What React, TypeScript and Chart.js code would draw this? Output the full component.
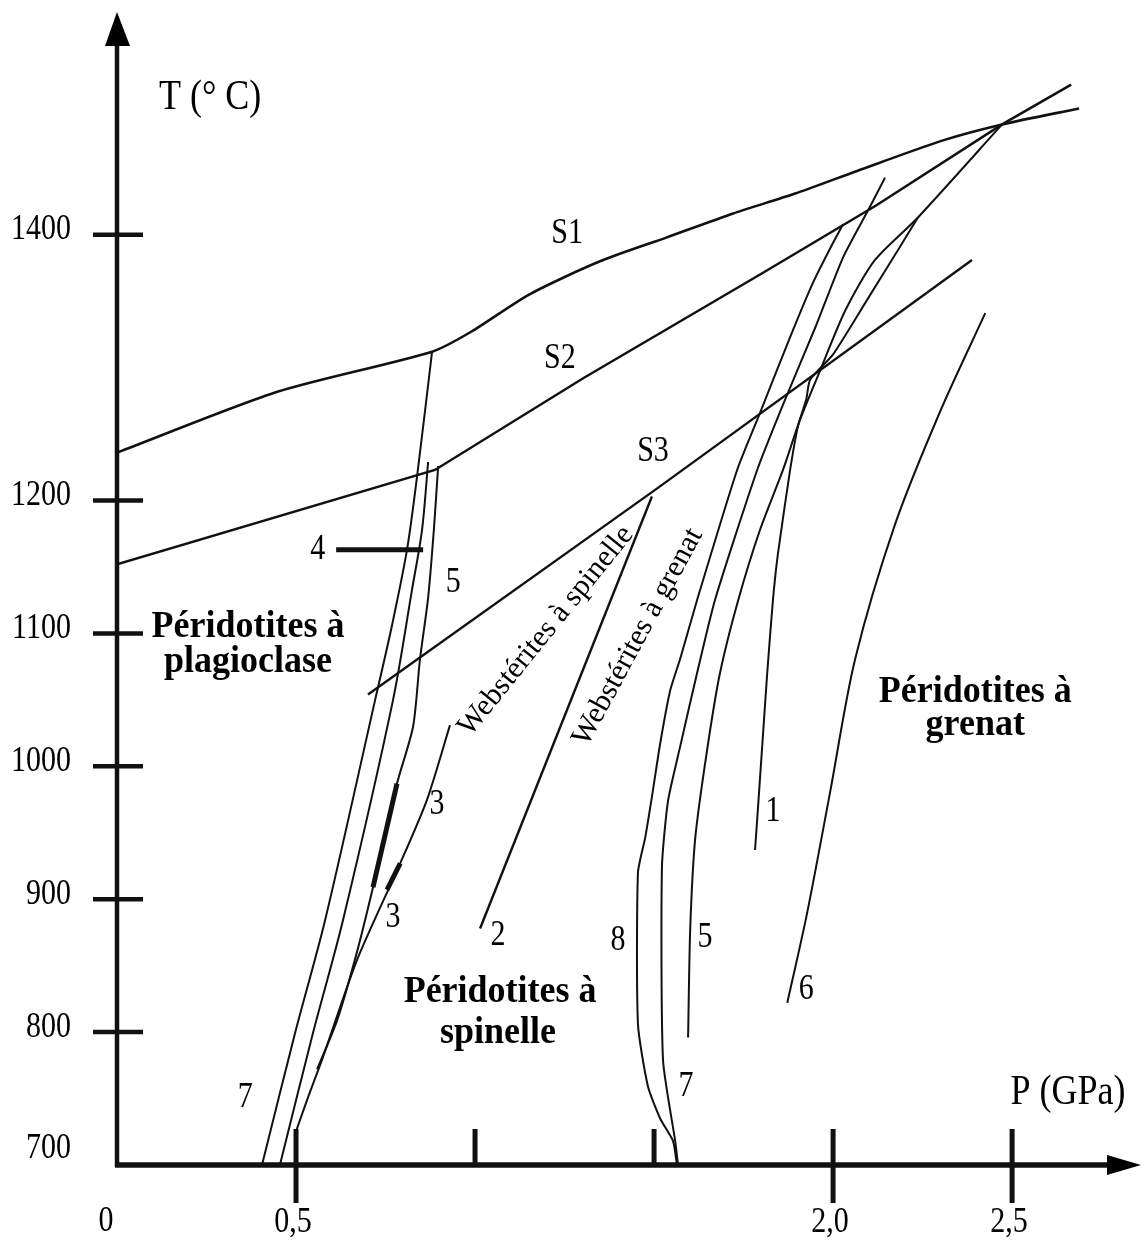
import React, { useEffect, useRef } from 'react';
import { Chart, registerables } from 'chart.js';

Chart.register(...registerables);

type Pt = [number, number];

// Solidus curves (P in GPa, T in °C)
const S1: Pt[] = [[0, 1236], [0.45, 1282], [0.88, 1312], [0.989, 1327], [1.151, 1355], [1.349, 1380], [1.536, 1398], [1.721, 1416], [1.894, 1431], [2.067, 1448], [2.307, 1471], [2.472, 1483], [2.687, 1495]];
const S2: Pt[] = [[0, 1152], [0.888, 1223], [1.302, 1292], [1.802, 1371], [2.12, 1422], [2.472, 1483], [2.665, 1513]];
const S3: Pt[] = [[0.701, 1054], [1.503, 1208], [2.388, 1381]];

// Plagioclase / spinel transition curves
const line7a: Pt[] = [[0.88, 1312], [0.838, 1218], [0.81, 1163], [0.768, 1106], [0.721, 1050], [0.581, 884], [0.497, 799], [0.405, 700]];
const line7b: Pt[] = [[0.869, 1229], [0.852, 1178], [0.824, 1133], [0.771, 1050], [0.631, 884], [0.547, 799], [0.455, 700]];
const line5a: Pt[] = [[0.897, 1226], [0.885, 1178], [0.869, 1127], [0.846, 1080], [0.827, 1030], [0.782, 987], [0.715, 909], [0.67, 860], [0.615, 809], [0.559, 772]];
const line3: Pt[] = [[0.93, 1031], [0.866, 975], [0.791, 927], [0.67, 854], [0.575, 781], [0.531, 749], [0.497, 723]];
const line3ThickA: Pt[] = [[0.782, 987], [0.715, 909]];
const line3ThickB: Pt[] = [[0.791, 927], [0.754, 907]];
const line4: Pt[] = [[0.612, 1163], [0.855, 1163]];

// Websterite boundary
const line2: Pt[] = [[1.014, 878], [1.494, 1203]];

// Spinel / garnet transition curves
const line8: Pt[] = [[1.564, 700], [1.553, 718], [1.517, 735], [1.483, 759], [1.455, 806], [1.455, 920], [1.475, 946], [1.494, 977], [1.517, 1017], [1.545, 1057], [1.573, 1081], [1.62, 1125], [1.732, 1223], [1.796, 1266], [1.88, 1323], [1.944, 1364], [2.0, 1394], [2.028, 1408]];
const line7c: Pt[] = [[1.567, 700], [1.559, 718], [1.525, 779], [1.522, 924], [1.539, 974], [1.573, 1015], [1.62, 1070], [1.67, 1125], [1.788, 1223], [1.866, 1276], [1.95, 1330], [2.028, 1383], [2.103, 1421], [2.145, 1443]];
const line5b: Pt[] = [[1.595, 796], [1.601, 878], [1.615, 946], [1.648, 1012], [1.684, 1070], [1.735, 1125], [1.796, 1178], [1.86, 1223], [1.908, 1261], [1.964, 1298], [2.034, 1343], [2.117, 1381], [2.237, 1413], [2.472, 1483]];
const line1: Pt[] = [[1.782, 937], [1.788, 960], [1.802, 1015], [1.816, 1070], [1.832, 1125], [1.846, 1160], [1.88, 1223], [1.902, 1256], [1.925, 1276], [1.936, 1291], [2.0, 1310], [2.095, 1351], [2.187, 1391], [2.237, 1413]];
const line6: Pt[] = [[1.872, 822], [1.927, 889], [1.992, 981], [2.061, 1080], [2.173, 1182], [2.299, 1267], [2.425, 1341]];

// Axes
const yTickValues = [700, 800, 900, 1000, 1100, 1200, 1400];
const yTickLabels = ['700', '800', '900', '1000', '1100', '1200', '1400'];
const xTickValues = [0.5, 1.0, 1.5, 2.0, 2.5];
const xTickLabels = ['0,5', '', '', '2,0', '2,5'];

// Text labels (positions in data units)
const curveLabels = [
  { t: 'S1', p: 1.257, v: 1401 },
  { t: 'S2', p: 1.237, v: 1307 },
  { t: 'S3', p: 1.497, v: 1236.5 },
  { t: '4', p: 0.561, v: 1163 },
  { t: '5', p: 0.939, v: 1138 },
  { t: '3', p: 0.894, v: 971 },
  { t: '3', p: 0.771, v: 886 },
  { t: '7', p: 0.358, v: 751 },
  { t: '2', p: 1.064, v: 873 },
  { t: '8', p: 1.399, v: 869 },
  { t: '5', p: 1.642, v: 871 },
  { t: '7', p: 1.589, v: 759 },
  { t: '1', p: 1.832, v: 966 },
  { t: '6', p: 1.925, v: 832 },
];
const regionLabels = [
  { t: 'Péridotites à', p: 0.366, v: 1097.3 },
  { t: 'plagioclase', p: 0.366, v: 1071 },
  { t: 'Péridotites à', p: 1.07, v: 822.7 },
  { t: 'spinelle', p: 1.064, v: 791.8 },
  { t: 'Péridotites à', p: 2.397, v: 1048.4 },
  { t: 'grenat', p: 2.397, v: 1023.6 },
];
const rotatedLabels = [
  { t: 'Webstérites à spinelle', p: 1.198, v: 1101.8, angle: -51 },
  { t: 'Webstérites à grenat', p: 1.455, v: 1097.3, angle: -61.5 },
];
const axisTitles = [
  { t: 'T (° C)', p: 0.26, v: 1503 },
  { t: 'P (GPa)', p: 2.656, v: 754 },
];

const SERIF = '"Liberation Serif", "Times New Roman", serif';

function drawText(ctx: CanvasRenderingContext2D, text: string, x: number, y: number, font: string, align: CanvasTextAlign, baseline: CanvasTextBaseline, sy = 1.15) {
  ctx.save();
  ctx.translate(x, y);
  ctx.scale(1, sy);
  ctx.font = font;
  ctx.textAlign = align;
  ctx.textBaseline = baseline;
  ctx.fillText(text, 0, 0);
  ctx.restore();
}

const annotPlugin = {
  id: 'phaseAnnot',
  afterDatasetsDraw(chart: any) {
    const { ctx, chartArea } = chart;
    const xs = chart.scales.x;
    const ys = chart.scales.y;
    const X = (v: number) => xs.getPixelForValue(v);
    const Y = (v: number) => ys.getPixelForValue(v);
    const x0 = X(0);
    const y0 = Y(700);
    ctx.save();
    ctx.fillStyle = '#000';
    ctx.strokeStyle = '#111';
    ctx.lineCap = 'butt';

    // Y axis with arrow
    ctx.lineWidth = 4.5;
    ctx.beginPath();
    ctx.moveTo(x0, y0 + 2);
    ctx.lineTo(x0, chartArea.top + 30);
    ctx.stroke();
    ctx.beginPath();
    ctx.moveTo(x0, chartArea.top);
    ctx.lineTo(x0 - 12, chartArea.top + 34);
    ctx.lineTo(x0 + 13, chartArea.top + 34);
    ctx.closePath();
    ctx.fill();

    // X axis with arrow
    ctx.lineWidth = 5.5;
    ctx.beginPath();
    ctx.moveTo(x0 - 2, y0);
    ctx.lineTo(chartArea.right - 30, y0);
    ctx.stroke();
    ctx.beginPath();
    ctx.moveTo(chartArea.right, y0);
    ctx.lineTo(chartArea.right - 34, y0 - 10);
    ctx.lineTo(chartArea.right - 34, y0 + 10);
    ctx.closePath();
    ctx.fill();

    // Y ticks and labels
    ctx.fillStyle = '#000';
    yTickValues.forEach((v, i) => {
      const py = Y(v);
      if (v !== 700) {
        ctx.lineWidth = 4.5;
        ctx.beginPath();
        ctx.moveTo(x0 - 24, py);
        ctx.lineTo(x0 + 26, py);
        ctx.stroke();
      }
      drawText(ctx, yTickLabels[i], x0 - 46, py - (v === 700 ? 16 : 5), `30px ${SERIF}`, 'right', 'middle', 1.2);
    });

    // X ticks and labels
    xTickValues.forEach((v, i) => {
      const px = X(v);
      const labelled = xTickLabels[i] !== '';
      ctx.lineWidth = 5;
      ctx.beginPath();
      ctx.moveTo(px, y0 - 36);
      ctx.lineTo(px, labelled ? y0 + 38 : y0 - 2);
      ctx.stroke();
      if (labelled) {
        drawText(ctx, xTickLabels[i], px - 3, y0 + 58, `30px ${SERIF}`, 'center', 'middle', 1.2);
      }
    });
    drawText(ctx, '0', x0 - 11, y0 + 57, `30px ${SERIF}`, 'center', 'middle', 1.2);

    // Axis titles
    axisTitles.forEach((a) => {
      drawText(ctx, a.t, X(a.p), Y(a.v), `36px ${SERIF}`, 'center', 'middle', 1.15);
    });

    // Curve labels
    curveLabels.forEach((l) => {
      drawText(ctx, l.t, X(l.p), Y(l.v), `30px ${SERIF}`, 'center', 'middle', 1.2);
    });

    // Region labels
    regionLabels.forEach((l) => {
      drawText(ctx, l.t, X(l.p), Y(l.v), `bold 36px ${SERIF}`, 'center', 'alphabetic', 1.05);
    });

    // Rotated labels
    rotatedLabels.forEach((l) => {
      ctx.save();
      ctx.translate(X(l.p), Y(l.v));
      ctx.rotate((l.angle * Math.PI) / 180);
      ctx.font = `30px ${SERIF}`;
      ctx.textAlign = 'center';
      ctx.textBaseline = 'middle';
      ctx.fillText(l.t, 0, 0);
      ctx.restore();
    });

    ctx.restore();
  },
};

function ds(data: Pt[], width: number, tension: number) {
  return {
    data: data.map(([p, t]) => ({ x: p, y: t })),
    showLine: true,
    borderColor: '#111',
    borderWidth: width,
    pointRadius: 0,
    pointHoverRadius: 0,
    tension,
    fill: false,
  };
}

export default function App() {
  const canvasRef = useRef<HTMLCanvasElement | null>(null);

  useEffect(() => {
    if (!canvasRef.current) return;
    const chart = new Chart(canvasRef.current, {
      type: 'scatter',
      data: {
        datasets: [
          ds(S1, 2.6, 0.25),
          ds(S2, 2.5, 0),
          ds(S3, 2.4, 0),
          ds(line7a, 2, 0.3),
          ds(line7b, 2, 0.3),
          ds(line5a, 2, 0.25),
          ds(line3, 2, 0.25),
          ds(line3ThickA, 5, 0),
          ds(line3ThickB, 5, 0),
          ds(line4, 5, 0),
          ds(line2, 2.4, 0),
          ds(line8, 2, 0.2),
          ds(line7c, 2, 0.2),
          ds(line5b, 2, 0.25),
          ds(line1, 2, 0.2),
          ds(line6, 2, 0.3),
        ] as any,
      },
      options: {
        responsive: false,
        maintainAspectRatio: false,
        devicePixelRatio: 1,
        animation: false,
        events: [],
        layout: { padding: { left: 117, right: 3, top: 12, bottom: 79 } },
        plugins: { legend: { display: false }, tooltip: { enabled: false } },
        scales: {
          x: { type: 'linear', min: 0, max: 2.86, display: false },
          y: { type: 'linear', min: 700, max: 1567.6, display: false },
        },
      },
      plugins: [annotPlugin],
    });
    return () => chart.destroy();
  }, []);

  return (
    <div style={{ position: 'absolute', left: 0, top: 0, width: 1144, height: 1244, background: '#fff' }}>
      <canvas ref={canvasRef} width={1144} height={1244} style={{ width: 1144, height: 1244, display: 'block' }} />
    </div>
  );
}
